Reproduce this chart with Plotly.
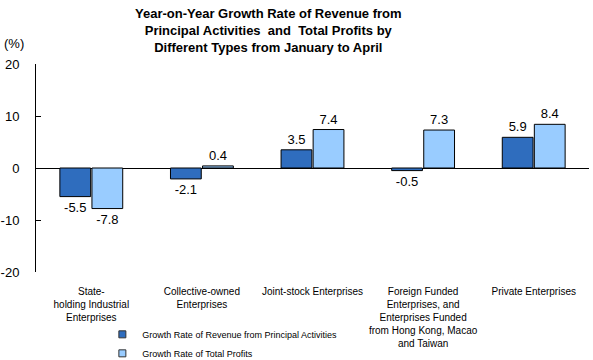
import plotly.graph_objects as go

categories = [
    "State-<br>holding Industrial<br>Enterprises",
    "Collective-owned<br>Enterprises",
    "Joint-stock Enterprises",
    "Foreign Funded<br>Enterprises, and<br>Enterprises Funded<br>from Hong Kong, Macao<br>and Taiwan",
    "Private Enterprises",
]
revenue_growth = [-5.5, -2.1, 3.5, -0.5, 5.9]
profit_growth = [-7.8, 0.4, 7.4, 7.3, 8.4]
series_names = [
    "Growth Rate of Revenue from Principal Activities",
    "Growth Rate of Total Profits",
]
series_colors = ["#2F6DBE", "#99CCFF"]
y_ticks = [-20, -10, 0, 10, 20]

FONT = "Arial, Liberation Sans, sans-serif"

fig = go.Figure()
for name, vals, color in zip(series_names, [revenue_growth, profit_growth], series_colors):
    fig.add_trace(go.Bar(
        x=categories, y=vals, name=name, showlegend=False,
        marker=dict(color=color, line=dict(color="black", width=1)),
        text=[f"{v:.1f}" for v in vals],
        textposition="outside",
        textfont=dict(family=FONT, size=13, color="black"),
        constraintext="none",
        cliponaxis=False,
    ))
# legend entries with small square swatches
for name, color in zip(series_names, series_colors):
    fig.add_trace(go.Scatter(
        x=[None], y=[None], mode="markers", name=name,
        marker=dict(symbol="square", size=7, color=color,
                    line=dict(color="#333333", width=1)),
    ))

fig.update_layout(
    width=593, height=360,
    margin=dict(l=36, r=4, t=64, b=88, autoexpand=False),
    paper_bgcolor="white", plot_bgcolor="white",
    barmode="group", bargap=0.42, bargroupgap=0.04,
    font=dict(family=FONT, color="black"),
    showlegend=True,
    legend=dict(
        x=0.12, xanchor="left", y=-0.23, yanchor="top",
        font=dict(family=FONT, size=9, color="black"),
        bgcolor="rgba(0,0,0,0)", tracegroupgap=0,
        itemwidth=30,
    ),
    xaxis=dict(
        showline=False, ticks="", showgrid=False, zeroline=False,
        tickfont=dict(family=FONT, size=10, color="black"),
        ticklabelstandoff=12, automargin=False,
    ),
    yaxis=dict(
        range=[-20, 20], tickvals=y_ticks, ticktext=[str(v) for v in y_ticks],
        showline=True, linecolor="black", linewidth=1,
        ticks="inside", ticklen=5, tickcolor="black",
        showgrid=False, zeroline=True, zerolinecolor="black", zerolinewidth=1,
        tickfont=dict(family=FONT, size=13, color="black"),
        ticklabelstandoff=13, automargin=False,
    ),
    annotations=[
        dict(
            text="<b>Year-on-Year Growth Rate of Revenue from<br>Principal Activities  and  Total Profits by<br>Different Types from January to April</b>",
            xref="paper", yref="paper", x=0.42, xanchor="center",
            y=1.29, yanchor="top", showarrow=False, align="center",
            font=dict(family=FONT, size=13, color="black"),
        ),
        dict(
            text="(%)", xref="paper", yref="paper", x=-0.062, xanchor="left",
            y=1.10, yanchor="middle", showarrow=False,
            font=dict(family=FONT, size=13, color="black"),
        ),
    ],
)

fig.write_html(
    "out.html",
    config={"displayModeBar": False},
    post_script="document.body.style.margin='0px';document.body.style.overflow='hidden';",
)
